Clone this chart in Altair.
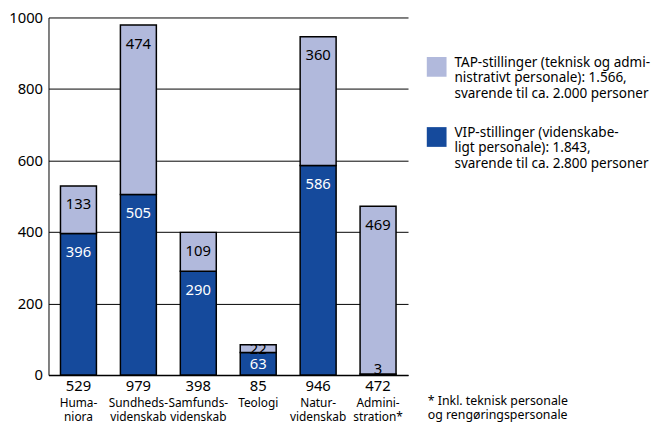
import altair as alt
import pandas as pd

categories = ["Huma-\nniora", "Sundheds-\nvidenskab", "Samfunds-\nvidenskab",
              "Teologi", "Natur-\nvidenskab", "Admini-\nstration*"]
vip = [396, 505, 290, 63, 586, 3]
tap = [133, 474, 109, 22, 360, 469]
totals = [529, 979, 398, 85, 946, 472]
series = [
    "TAP-stillinger (teknisk og admi-\nnistrativt personale): 1.566,\nsvarende til ca. 2.000 personer",
    "VIP-stillinger (videnskabe-\nligt personale): 1.843,\nsvarende til ca. 2.800 personer",
]
colors = ["#b1b9dc", "#154a9c"]
footnote = "* Inkl. teknisk personale\n   og rengøringspersonale"
y_ticks = [0, 200, 400, 600, 800, 1000]

rows = []
for i, c in enumerate(categories):
    rows.append({"cat": c, "series": series[1], "value": vip[i], "order": 0})
    rows.append({"cat": c, "series": series[0], "value": tap[i], "order": 1})
df = pd.DataFrame(rows)
tdf = pd.DataFrame({"cat": categories, "total": totals})
fdf = pd.DataFrame({"t": [footnote]})

W, H = 364, 362
yscale = alt.Scale(domain=[0, 1000], nice=False)
xenc = alt.X("cat:N", sort=categories,
             scale=alt.Scale(paddingInner=0.4, paddingOuter=0.2),
             axis=alt.Axis(title=None, labelExpr="split(datum.label, '\\n')", labelAngle=0,
                           labelPadding=23, labelFontSize=12, labelLineHeight=14, ticks=False,
                           domainWidth=1.5, domainColor="black", labelColor="black",
                           labelBaseline="top"))

base = alt.Chart(df).transform_stack(
    stack="value", groupby=["cat"], as_=["y0", "y1"], sort=[alt.SortField("order")]
)

bars = base.mark_bar(stroke="black", strokeWidth=1.5).encode(
    x=xenc,
    y=alt.Y("y0:Q", scale=yscale,
            axis=alt.Axis(values=y_ticks, format="d", title=None, ticks=False, grid=True,
                          gridColor="black", gridWidth=1, gridOpacity=1, domainColor="black",
                          labelFontSize=15, labelPadding=6, labelColor="black")),
    y2="y1:Q",
    color=alt.Color("series:N", scale=alt.Scale(domain=series, range=colors),
                    legend=alt.Legend(title=None, orient="none", legendX=383, legendY=29,
                                      symbolType="M-1,0.1H1V2.1H-1Z", symbolSize=400,
                                      symbolStrokeWidth=0,
                                      labelFontSize=13.7, labelLimit=400, labelOffset=8,
                                      rowPadding=15, labelExpr="split(datum.label, '\\n')",
                                      labelBaseline="top", labelColor="black")),
)

labels = base.transform_calculate(
    pos="datum.value >= 100 ? datum.y1 - 52 : max((datum.y0 + datum.y1) / 2, 18)"
).mark_text(fontSize=15, baseline="middle").encode(
    x=alt.X("cat:N", sort=categories),
    y=alt.Y("pos:Q", scale=yscale),
    text="value:Q",
    color=alt.condition("datum.order == 1 || datum.value < 10", alt.value("black"), alt.value("white")),
)

tot = alt.Chart(tdf).mark_text(fontSize=15, baseline="middle", color="black").encode(
    x=alt.X("cat:N", sort=categories),
    y=alt.value(H + 11),
    text="total:Q",
)

foot = alt.Chart(fdf).mark_text(align="left", baseline="middle", fontSize=12.5,
                                lineBreak="\n", lineHeight=15, color="black").encode(
    x=alt.value(384), y=alt.value(388), text="t:N"
)

chart = alt.layer(bars, labels, tot, foot).properties(
    width=W, height=H,
    autosize=alt.AutoSizeParams(type="none"),
    padding={"left": 41, "top": 7, "right": 246, "bottom": 49},
).configure(font="Noto Sans").configure_view(stroke=None)

chart.save("out.html", embed_options={"renderer": "svg", "actions": False})
